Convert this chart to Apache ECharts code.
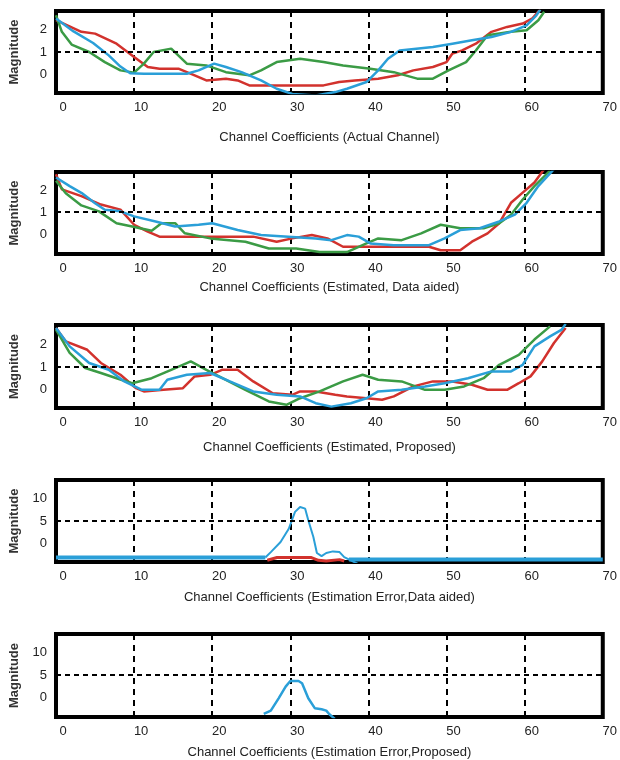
<!DOCTYPE html>
<html>
<head>
<meta charset="utf-8">
<title>Channel Coefficients</title>
<script src="https://cdn.jsdelivr.net/npm/echarts@6/dist/echarts.min.js"></script>
<style>
  html, body { margin: 0; padding: 0; background: #fff; }
  #chart { width: 620px; height: 760px; }
</style>
</head>
<body>
<div id="chart"></div>
<script>
const xTicks = [0, 10, 20, 30, 40, 50, 60, 70]
const yTicksChannel = [0, 1, 2]
const yTicksError = [0, 5, 10]
const titles = [
  'Channel Coefficients (Actual Channel)',
  'Channel Coefficients (Estimated, Data aided)',
  'Channel Coefficients (Estimated, Proposed)',
  'Channel Coefficients (Estimation Error,Data aided)',
  'Channel Coefficients (Estimation Error,Proposed)'
]

// panel 1 - actual channel
const actRed = [[0,2.42],[3.25,1.9],[5,1.82],[7.75,1.37],[10,0.78],[11.75,0.33],[13.25,0.25],[15.75,0.25],[17.75,-0.04],[19.25,-0.27],[21.75,-0.19],[23.25,-0.27],[24.75,-0.49],[28.25,-0.49],[31.25,-0.49],[34.25,-0.49],[36.25,-0.34],[38.25,-0.27],[41.25,-0.19],[43.75,-0.04],[45.75,0.18],[48.25,0.33],[50,0.55],[50.75,0.93],[52,1.07],[53.75,1.37],[55.75,1.9],[57.75,2.12],[59.75,2.27],[61,2.5],[61.75,2.8],[62,2.9]]
const actBlue = [[0,2.5],[2.25,1.92],[4.75,1.4],[6.75,0.85],[8.25,0.35],[9.5,0.05],[11.25,0.03],[16.75,0.03],[18.25,0.18],[20.25,0.48],[21.75,0.33],[23.75,0.1],[26.25,-0.27],[28.25,-0.64],[30.25,-0.87],[33.25,-0.94],[35.75,-0.79],[37.25,-0.64],[39.75,-0.34],[41.25,0.18],[42.5,0.7],[44,1.07],[48.25,1.22],[50.75,1.37],[53.25,1.52],[55.75,1.67],[58.25,1.9],[60.25,2.19],[61.5,2.64],[62,2.9]]
const actGreen = [[0,2.64],[0.75,1.9],[2,1.33],[4.25,1.0],[6.25,0.55],[8.25,0.18],[10,0.08],[11.25,0.48],[12.5,1.0],[14.75,1.15],[16.75,0.48],[19.25,0.4],[21.75,0.1],[24.75,-0.04],[26.25,0.18],[28.25,0.55],[31.25,0.7],[34.25,0.55],[36.75,0.4],[40.25,0.25],[43.25,0.1],[46.25,-0.19],[48.25,-0.19],[50.25,0.18],[52.5,0.55],[53.75,1.07],[55.25,1.75],[58.25,1.9],[60.25,1.97],[61.75,2.42],[62.5,2.8]]

// panel 2 - estimated, data aided
const daRed = [[0,2.72],[0.75,2.03],[3.25,1.72],[5.75,1.34],[8.25,1.11],[10,0.42],[11.75,0.11],[13.25,-0.12],[25.25,-0.12],[28.25,-0.35],[30.25,-0.2],[32.75,-0.05],[34.75,-0.2],[36.75,-0.58],[47.75,-0.58],[49.25,-0.74],[51.75,-0.74],[53.25,-0.35],[55.25,0.03],[56.75,0.49],[58.25,1.42],[59.75,1.88],[61.25,2.34],[62.5,2.95]]
const daBlue = [[0,2.57],[1.75,2.18],[3.3,1.86],[5,1.4],[6.25,1.1],[8.25,1.03],[10,0.8],[12.75,0.57],[15.25,0.34],[18.25,0.42],[20,0.49],[23.25,0.18],[26.25,-0.05],[29.75,-0.12],[33.25,-0.2],[35.25,-0.28],[37.25,-0.05],[38.75,-0.12],[40.25,-0.43],[43.25,-0.51],[47.75,-0.51],[49.75,-0.2],[51.75,0.18],[54.25,0.26],[56.75,0.57],[58.75,0.88],[60.25,1.42],[61.75,2.18],[63.75,2.95]]
const daGreen = [[0,2.42],[1.25,1.85],[3.25,1.3],[5.5,1.03],[7.75,0.49],[9.75,0.34],[12.25,0.15],[13.5,0.49],[15.25,0.49],[16.5,0.03],[19.75,-0.2],[24.25,-0.35],[27.25,-0.66],[30.75,-0.66],[33.75,-0.82],[37.25,-0.82],[39.75,-0.43],[41.25,-0.2],[44.25,-0.28],[46.75,0.03],[49.25,0.42],[51.75,0.26],[54.75,0.26],[56.75,0.49],[58.25,0.88],[59.75,1.57],[61.25,2.18],[63.25,2.88]]

// panel 3 - estimated, proposed
const prRed = [[0,2.72],[1.25,2.13],[4,1.76],[5.75,1.18],[8.25,0.66],[10.25,0.07],[11.25,-0.07],[13.75,0],[16.25,0.07],[17.75,0.59],[19.75,0.66],[21.25,0.88],[23.25,0.88],[25.25,0.37],[27.75,-0.15],[30.25,-0.22],[31.25,-0.07],[33.25,-0.07],[35.75,-0.22],[37.25,-0.29],[39.75,-0.37],[41.75,-0.44],[43.25,-0.29],[45.75,0.15],[48.25,0.37],[50.75,0.37],[53.25,0.22],[55.25,0],[57.75,0],[59.25,0.29],[60.75,0.59],[62.25,1.25],[63.75,2.06],[65.25,2.72]]
const prBlue = [[0,2.72],[1.75,1.91],[4.25,1.18],[6.75,0.88],[8.75,0.37],[11,0],[13.25,0],[14.25,0.44],[16.75,0.66],[19.75,0.74],[22.25,0.37],[25.25,-0.07],[28.25,-0.22],[31.25,-0.29],[33.25,-0.59],[35.25,-0.74],[37.75,-0.59],[39.75,-0.37],[41.25,-0.07],[44.25,0],[47.25,0.15],[49.75,0.29],[52.75,0.51],[55.75,0.81],[58.25,0.81],[59.75,1.1],[61.25,1.91],[63.25,2.35],[64.75,2.65],[65.25,2.9]]
const prGreen = [[0,2.65],[1.75,1.62],[3.75,0.96],[5.75,0.74],[7.75,0.51],[9.75,0.29],[12.25,0.51],[14.75,0.88],[17.25,1.25],[19.25,0.88],[21.75,0.44],[24.25,0],[27.25,-0.51],[29.5,-0.66],[31.25,-0.37],[33.75,-0.07],[36.75,0.37],[39.25,0.66],[41.25,0.44],[44.25,0.37],[47.25,0],[49.75,0],[52.25,0.15],[54.75,0.51],[56.75,1.1],[59.25,1.54],[61.25,2.21],[63.25,2.79]]

// panel 4 - estimation error, data aided
const errDaBlue = [[26.8,-3.0],[27.5,-1.8],[28.75,0.4],[29.8,3.3],[30.6,7.0],[31.25,8.07],[31.9,7.7],[32.3,5.15],[32.95,1.5],[33.4,-2.0],[34,-2.7],[34.6,-2.0],[35.45,-1.65],[36.3,-1.8],[36.9,-2.9],[37.55,-3.45],[38.9,-4.6]]
const errDaBaseLeft = [[0,-3.0],[26.8,-3.0]]
const errDaBaseRight = [[37.5,-3.4],[70,-3.4]]
const errDaRed = [[27.05,-3.6],[28.3,-3.0],[32.7,-3.0],[33.6,-3.6],[34.6,-3.75],[36.3,-3.45],[36.9,-3.75]]

// panel 5 - estimation error, proposed
const errPrBlue = [[26.6,-3.5],[27.5,-2.8],[28.5,-0.1],[29.4,2.45],[30,3.7],[31.05,3.7],[31.5,3.2],[32.3,-0.1],[33.15,-2.3],[34,-2.5],[34.6,-2.8],[35,-3.6],[35.7,-4.6]]

const RED = '#d2322d'
const BLUE = '#2a9fd8'
const GREEN = '#3b9b45'
const FONT = '"Liberation Sans Narrow", "Liberation Sans", Arial, sans-serif'

const panels = [
  { top: 11, height: 82, min: -0.83, max: 2.83, ref: 1, ticks: yTicksChannel, gap: 38,
    lines: [[actRed, RED, 2.5], [actGreen, GREEN, 2.5], [actBlue, BLUE, 2.5]] },
  { top: 172, height: 82, min: -0.91, max: 2.82, ref: 1, ticks: yTicksChannel, gap: 27,
    lines: [[daRed, RED, 2.5], [daGreen, GREEN, 2.5], [daBlue, BLUE, 2.5]] },
  { top: 325, height: 83, min: -0.8, max: 2.85, ref: 1, ticks: yTicksChannel, gap: 33,
    lines: [[prRed, RED, 2.5], [prGreen, GREEN, 2.5], [prBlue, BLUE, 2.5]] },
  { top: 480, height: 82, min: -3.97, max: 13.97, ref: 5, ticks: yTicksError, gap: 29,
    lines: [[errDaBaseLeft, BLUE, 4], [errDaBaseRight, BLUE, 4], [errDaBlue, BLUE, 2], [errDaRed, RED, 3]] },
  { top: 634, height: 83, min: -4.19, max: 13.97, ref: 5, ticks: yTicksError, gap: 29,
    lines: [[errPrBlue, BLUE, 2.5]] }
]

const chart = echarts.init(document.getElementById('chart'), null, { renderer: 'canvas' })

const grid = []
const xAxis = []
const yAxis = []
const series = []

panels.forEach((p, i) => {
  grid.push({
    left: 55, right: 14, top: p.top, height: p.height,
    show: true, borderColor: '#000', borderWidth: 4, backgroundColor: '#fff'
  })
  xAxis.push({
    type: 'value', gridIndex: i, min: xTicks[0], max: xTicks[xTicks.length - 1], interval: 10,
    name: titles[i], nameLocation: 'middle', nameGap: p.gap,
    nameTextStyle: { fontFamily: FONT, fontSize: 13, color: '#222' },
    axisLine: { show: false }, axisTick: { show: false },
    axisLabel: { fontFamily: FONT, fontSize: 13, color: '#222', margin: 8, padding: [0, 0, 0, 14] },
    splitLine: { show: true, lineStyle: { color: '#000', width: 2, type: [6, 5] } }
  })
  yAxis.push({
    type: 'value', gridIndex: i, min: p.min, max: p.max,
    name: 'Magnitude', nameLocation: 'middle', nameRotate: 90, nameGap: 35,
    nameTextStyle: { fontFamily: '"Liberation Sans", Arial, sans-serif', fontWeight: 'bold', fontSize: 13, color: '#333' },
    axisLine: { show: false }, axisTick: { show: false },
    axisLabel: { customValues: p.ticks, fontFamily: FONT, fontSize: 13, color: '#222', margin: 9 },
    splitLine: { show: false }
  })
  p.lines.forEach((l, k) => {
    const s = {
      type: 'line', xAxisIndex: i, yAxisIndex: i, data: l[0],
      showSymbol: false, symbol: 'none', clip: true,
      lineStyle: { color: l[1], width: l[2] }, itemStyle: { color: l[1] },
      emphasis: { disabled: true }, z: 3
    }
    if (k === 0) {
      s.markLine = {
        silent: true, symbol: 'none', animation: false, label: { show: false },
        lineStyle: { color: '#000', width: 2, type: [5, 4] },
        data: [{ yAxis: p.ref }]
      }
    }
    series.push(s)
  })
})

chart.setOption({
  animation: false,
  backgroundColor: '#fff',
  grid,
  xAxis,
  yAxis,
  series
})
</script>
</body>
</html>
